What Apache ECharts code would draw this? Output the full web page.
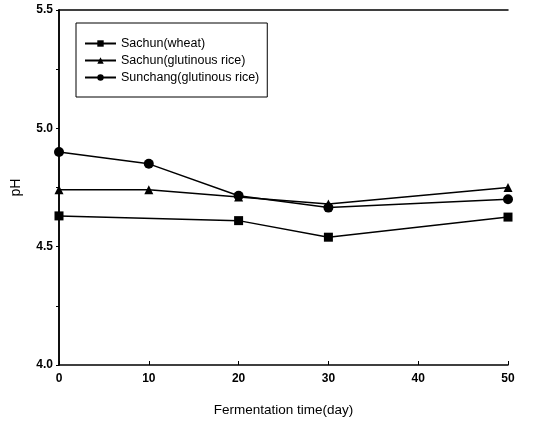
<!DOCTYPE html>
<html>
<head>
<meta charset="utf-8">
<script src="https://cdn.jsdelivr.net/npm/echarts@6/dist/echarts.min.js"></script>
<style>
  html, body { margin: 0; padding: 0; background: #fff; }
  #chart { width: 533px; height: 422px; }
</style>
</head>
<body>
<div id="chart"></div>
<script>
// fermentation days and pH readings
const days = [0, 10, 20, 30, 50];
const wheatPH = [4.63, null, 4.61, 4.54, 4.625];
const sachunRicePH = [4.74, 4.74, 4.71, 4.68, 4.75];
const sunchangRicePH = [4.90, 4.85, 4.715, 4.665, 4.70];
const seriesNames = ['Sachun(wheat)', 'Sachun(glutinous rice)', 'Sunchang(glutinous rice)'];
const yTicks = [4.0, 4.5, 5.0, 5.5];

function pairs(vals) {
  // drop days with no reading
  return days.map((d, i) => [d, vals[i]]).filter(p => p[1] !== null);
}

var myChart = echarts.init(document.getElementById('chart'));
const font = 'Liberation Sans, Arial, sans-serif';

const option = {
  animation: false,
  grid: { left: 59, right: 25, top: 10, bottom: 57 },
  legend: {
    orient: 'vertical',
    left: 76, top: 23,
    data: seriesNames,
    itemWidth: 31, itemHeight: 8, itemGap: 4,
    padding: [14, 8, 13, 8],
    borderColor: '#000', borderWidth: 1,
    textStyle: { color: '#000', fontFamily: font, fontSize: 12.5 }
  },
  xAxis: [
    {
      type: 'value', min: 0, max: 50, interval: 10,
      name: 'Fermentation time(day)', nameLocation: 'middle', nameGap: 38,
      nameTextStyle: { color: '#000', fontFamily: font, fontSize: 13.5 },
      axisLine: { lineStyle: { color: '#000', width: 1.5 } },
      axisTick: { inside: true, length: 4, lineStyle: { color: '#000' } },
      axisLabel: { color: '#000', fontFamily: font, fontSize: 12, fontWeight: 'bold', margin: 8 },
      splitLine: { show: false }
    },
    {
      type: 'value', position: 'top', min: 0, max: 50, interval: 10,
      axisLine: { show: true, lineStyle: { color: '#000', width: 1.5 } },
      axisTick: { show: false }, axisLabel: { show: false }, splitLine: { show: false }
    }
  ],
  yAxis: [
    {
      type: 'value', min: 4.0, max: 5.5, interval: 0.5,
      name: 'pH', nameLocation: 'middle', nameGap: 36, nameRotate: 90,
      nameTextStyle: { color: '#000', fontFamily: font, fontSize: 14 },
      axisLine: { show: true, lineStyle: { color: '#000', width: 1.5 } },
      axisTick: { length: 3, lineStyle: { color: '#000' } },
      minorTick: { show: true, splitNumber: 2, length: 3, lineStyle: { color: '#000' } },
      axisLabel: {
        color: '#000', fontFamily: font, fontSize: 12, fontWeight: 'bold', margin: 6,
        formatter: v => yTicks.includes(v) ? v.toFixed(1) : ''
      },
      splitLine: { show: false }
    },
    {
      type: 'value', position: 'right', min: 4.0, max: 5.5, interval: 0.5,
      axisLine: { show: true, lineStyle: { color: '#000', width: 1.5 } },
      axisTick: { show: false }, axisLabel: { show: false }, splitLine: { show: false }
    }
  ],
  color: ['#000', '#000', '#000'],
  series: [
    {
      name: seriesNames[0], type: 'line', data: pairs(wheatPH),
      symbol: 'rect', symbolSize: 9,
      lineStyle: { color: '#000', width: 1.5 }, itemStyle: { color: '#000' }
    },
    {
      name: seriesNames[1], type: 'line', data: pairs(sachunRicePH),
      symbol: 'triangle', symbolSize: 9,
      lineStyle: { color: '#000', width: 1.5 }, itemStyle: { color: '#000' }
    },
    {
      name: seriesNames[2], type: 'line', data: pairs(sunchangRicePH),
      symbol: 'circle', symbolSize: 10,
      lineStyle: { color: '#000', width: 1.5 }, itemStyle: { color: '#000' }
    }
  ]
};
myChart.setOption(option);
</script>
</body>
</html>
